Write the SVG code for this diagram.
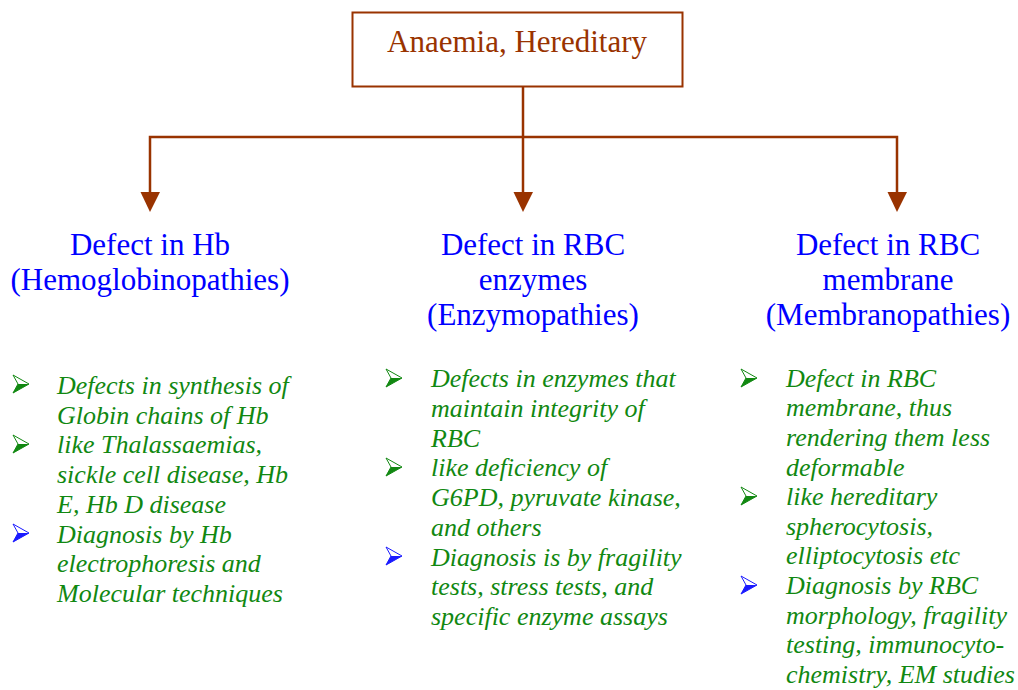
<svg xmlns="http://www.w3.org/2000/svg" width="1018" height="690" viewBox="0 0 1018 690">
<style>
.title{font-family:"Liberation Serif","Times New Roman",serif;font-size:31px;fill:#993300;text-anchor:middle}
.head{font-family:"Liberation Serif","Times New Roman",serif;font-size:31px;fill:#0000ff;text-anchor:middle}
.item{font-family:"Liberation Serif","Times New Roman",serif;font-size:26px;font-style:italic;fill:#118811}
.conn{fill:none;stroke:#993300;stroke-width:2.5}
.ah{fill:#993300}
.g{color:#118811}
.b{color:#1a1aff}
</style>
<defs>
<g id="bul">
<polygon points="0,0 16,9 0,18 5,9" fill="#ffffff" stroke="currentColor" stroke-width="1"/>
<polygon points="16,9 5,9 0,18" fill="currentColor"/>
</g>
</defs>
<g id="connectors">
<line class="conn" x1="523" y1="87" x2="523" y2="194"/>
<polyline class="conn" points="150,194 150,137 897,137 897,194"/>
<polygon class="ah" points="140.5,192 160,192 150,212"/>
<polygon class="ah" points="513.5,192 533,192 523,212"/>
<polygon class="ah" points="887.5,192 907,192 897,212"/>
</g>
<g id="root">
<rect x="352.5" y="12.5" width="330" height="74" fill="#ffffff" stroke="#993300" stroke-width="2"/>
<text class="title" x="517" y="52">Anaemia, Hereditary</text>
</g>
<g id="hb">
<text class="head" x="150" y="255">Defect in Hb</text>
<text class="head" x="150" y="290">(Hemoglobinopathies)</text>
<use href="#bul" x="13" y="375" class="g"/>
<use href="#bul" x="13" y="435" class="g"/>
<use href="#bul" x="13" y="524" class="b"/>
<text class="item" x="57" y="394">Defects in synthesis of</text>
<text class="item" x="57" y="423.7">Globin chains of Hb</text>
<text class="item" x="57" y="453.4">like Thalassaemias,</text>
<text class="item" x="57" y="483.1">sickle cell disease, Hb</text>
<text class="item" x="57" y="512.8">E, Hb D disease</text>
<text class="item" x="57" y="542.5">Diagnosis by Hb</text>
<text class="item" x="57" y="572.2">electrophoresis and</text>
<text class="item" x="57" y="601.9">Molecular techniques</text>
</g>
<g id="enzymes">
<text class="head" x="533" y="255">Defect in RBC</text>
<text class="head" x="533" y="290">enzymes</text>
<text class="head" x="533" y="325">(Enzymopathies)</text>
<use href="#bul" x="386" y="369" class="g"/>
<use href="#bul" x="386" y="458" class="g"/>
<use href="#bul" x="386" y="547" class="b"/>
<text class="item" x="431" y="387.3">Defects in enzymes that</text>
<text class="item" x="431" y="417">maintain integrity of</text>
<text class="item" x="431" y="446.7">RBC</text>
<text class="item" x="431" y="476.4">like deficiency of</text>
<text class="item" x="431" y="506.1">G6PD, pyruvate kinase,</text>
<text class="item" x="431" y="535.8">and others</text>
<text class="item" x="431" y="565.5">Diagnosis is by fragility</text>
<text class="item" x="431" y="595.2">tests, stress tests, and</text>
<text class="item" x="431" y="624.9">specific enzyme assays</text>
</g>
<g id="membrane">
<text class="head" x="888" y="255">Defect in RBC</text>
<text class="head" x="888" y="290">membrane</text>
<text class="head" x="888" y="325">(Membranopathies)</text>
<use href="#bul" x="741" y="369" class="g"/>
<use href="#bul" x="741" y="487" class="g"/>
<use href="#bul" x="741" y="576" class="b"/>
<text class="item" x="786" y="386.7">Defect in RBC</text>
<text class="item" x="786" y="416.3">membrane, thus</text>
<text class="item" x="786" y="445.9">rendering them less</text>
<text class="item" x="786" y="475.5">deformable</text>
<text class="item" x="786" y="505.1">like hereditary</text>
<text class="item" x="786" y="534.7">spherocytosis,</text>
<text class="item" x="786" y="564.3">elliptocytosis etc</text>
<text class="item" x="786" y="593.9">Diagnosis by RBC</text>
<text class="item" x="786" y="623.5">morphology, fragility</text>
<text class="item" x="786" y="653.1">testing, immunocyto-</text>
<text class="item" x="786" y="682.7">chemistry, EM studies</text>
</g>
</svg>
